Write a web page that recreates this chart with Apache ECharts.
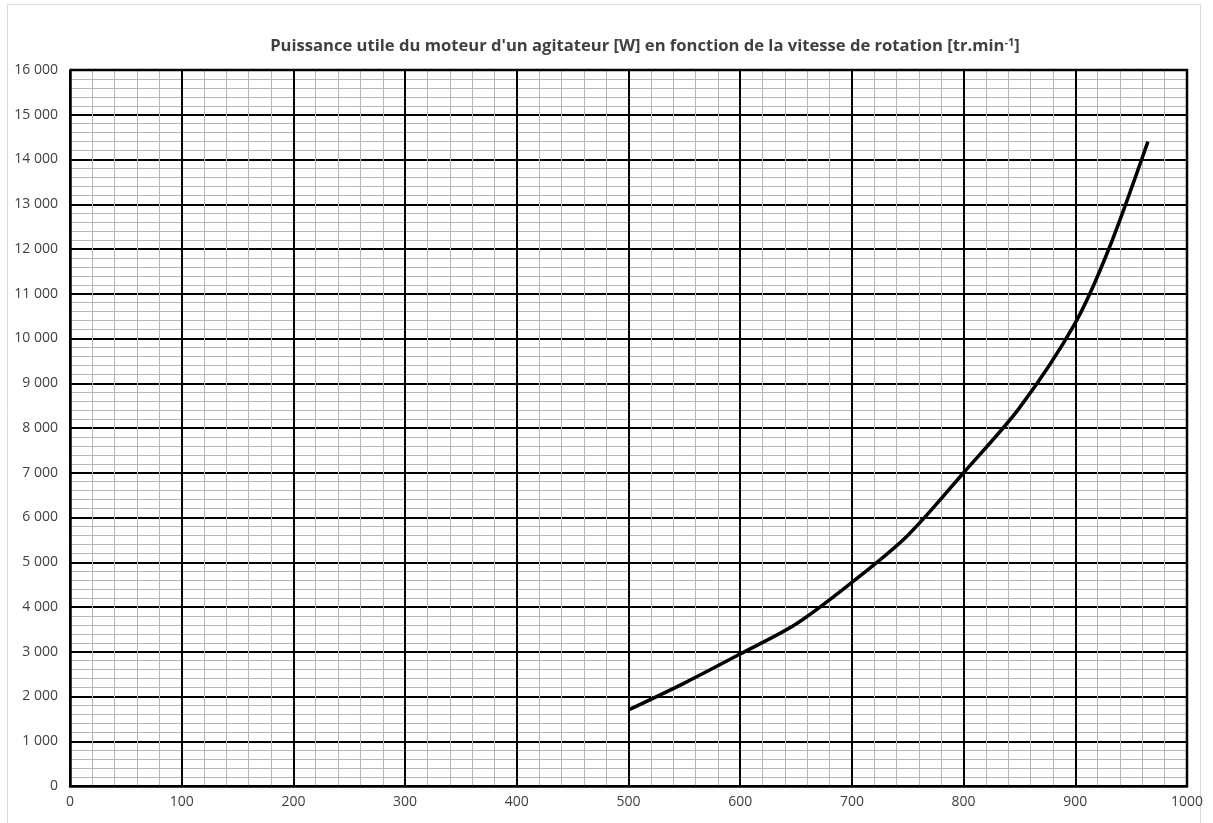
<!DOCTYPE html>
<html>
<head>
<meta charset="utf-8">
<script src="https://cdn.jsdelivr.net/npm/echarts@6/dist/echarts.min.js"></script>
<style>
  html, body { margin: 0; padding: 0; background: #fff; }
  #chart { width: 1213px; height: 823px; }
</style>
</head>
<body>
<div id="chart"></div>
<script>
// Rotation speed [tr/min] and useful power [W]
const vitesse = [500, 550, 600, 650, 700, 750, 800, 850, 900, 930, 965];
const puissance = [1700, 2300, 2950, 3620, 4550, 5600, 7000, 8450, 10350, 12000, 14400];

const titre = "Puissance utile du moteur d'un agitateur [W] en fonction de la vitesse de rotation [tr.min";

const fontFamily = '"Open Sans", "Liberation Sans", sans-serif';

function milliers(v) {
  return String(v).replace(/\B(?=(\d{3})+(?!\d))/g, ' ');
}

const chart = echarts.init(document.getElementById('chart'), null, { renderer: 'canvas' });

chart.setOption({
  backgroundColor: '#ffffff',
  animation: false,
  title: {
    text: '{t|' + titre + '}{s|-1}{t|]}',
    left: 640,
    textAlign: 'center',
    top: 32,
    textStyle: {
      rich: {
        t: { fontFamily: fontFamily, fontSize: 16.6, fontWeight: 'bold', color: '#404040' },
        s: { fontFamily: fontFamily, fontSize: 11, fontWeight: 'bold', color: '#404040', padding: [0, 0, 8, 0] }
      }
    }
  },
  grid: { left: 70, right: 26, top: 70, bottom: 37, containLabel: false },
  xAxis: {
    type: 'value',
    min: 0, max: 1000, interval: 100,
    axisLine: { show: true, onZero: false, lineStyle: { color: '#000', width: 2.5 } },
    axisTick: { show: false },
    axisLabel: { color: '#404040', fontFamily: fontFamily, fontSize: 14, margin: 9, formatter: v => String(v) },
    splitLine: { show: true, lineStyle: { color: '#000', width: 2 } },
    minorTick: { show: false, splitNumber: 5 },
    minorSplitLine: { show: true, lineStyle: { color: '#b5b5b5', width: 1 } }
  },
  yAxis: {
    type: 'value',
    min: 0, max: 16000, interval: 1000,
    axisLine: { show: true, onZero: false, lineStyle: { color: '#000', width: 2.5 } },
    axisTick: { show: false },
    axisLabel: {
      color: '#404040', fontFamily: fontFamily, fontSize: 14, margin: 12,
      formatter: milliers
    },
    splitLine: { show: true, lineStyle: { color: '#000', width: 2 } },
    minorTick: { show: false, splitNumber: 5 },
    minorSplitLine: { show: true, lineStyle: { color: '#b5b5b5', width: 1 } }
  },
  series: [{
    type: 'line',
    data: vitesse.map((v, i) => [v, puissance[i]]),
    smooth: 0.3,
    showSymbol: false,
    lineStyle: { color: '#000', width: 3.5 }
  }]
});

// Light outer frame and the closing border on the top and right of the plot area
const rect = chart.getModel().getComponent('grid').coordinateSystem.getRect();
chart.setOption({
  graphic: [{
    type: 'rect',
    shape: { x: 7.5, y: 4.5, width: 1193, height: 830 },
    style: { fill: 'none', stroke: '#d9d9d9', lineWidth: 1 },
    silent: true
  }, {
    type: 'polyline',
    shape: { points: [[rect.x, rect.y], [rect.x + rect.width, rect.y], [rect.x + rect.width, rect.y + rect.height]] },
    style: { stroke: '#000', lineWidth: 2.5, fill: 'none' },
    silent: true,
    z: 5
  }]
});
</script>
</body>
</html>
